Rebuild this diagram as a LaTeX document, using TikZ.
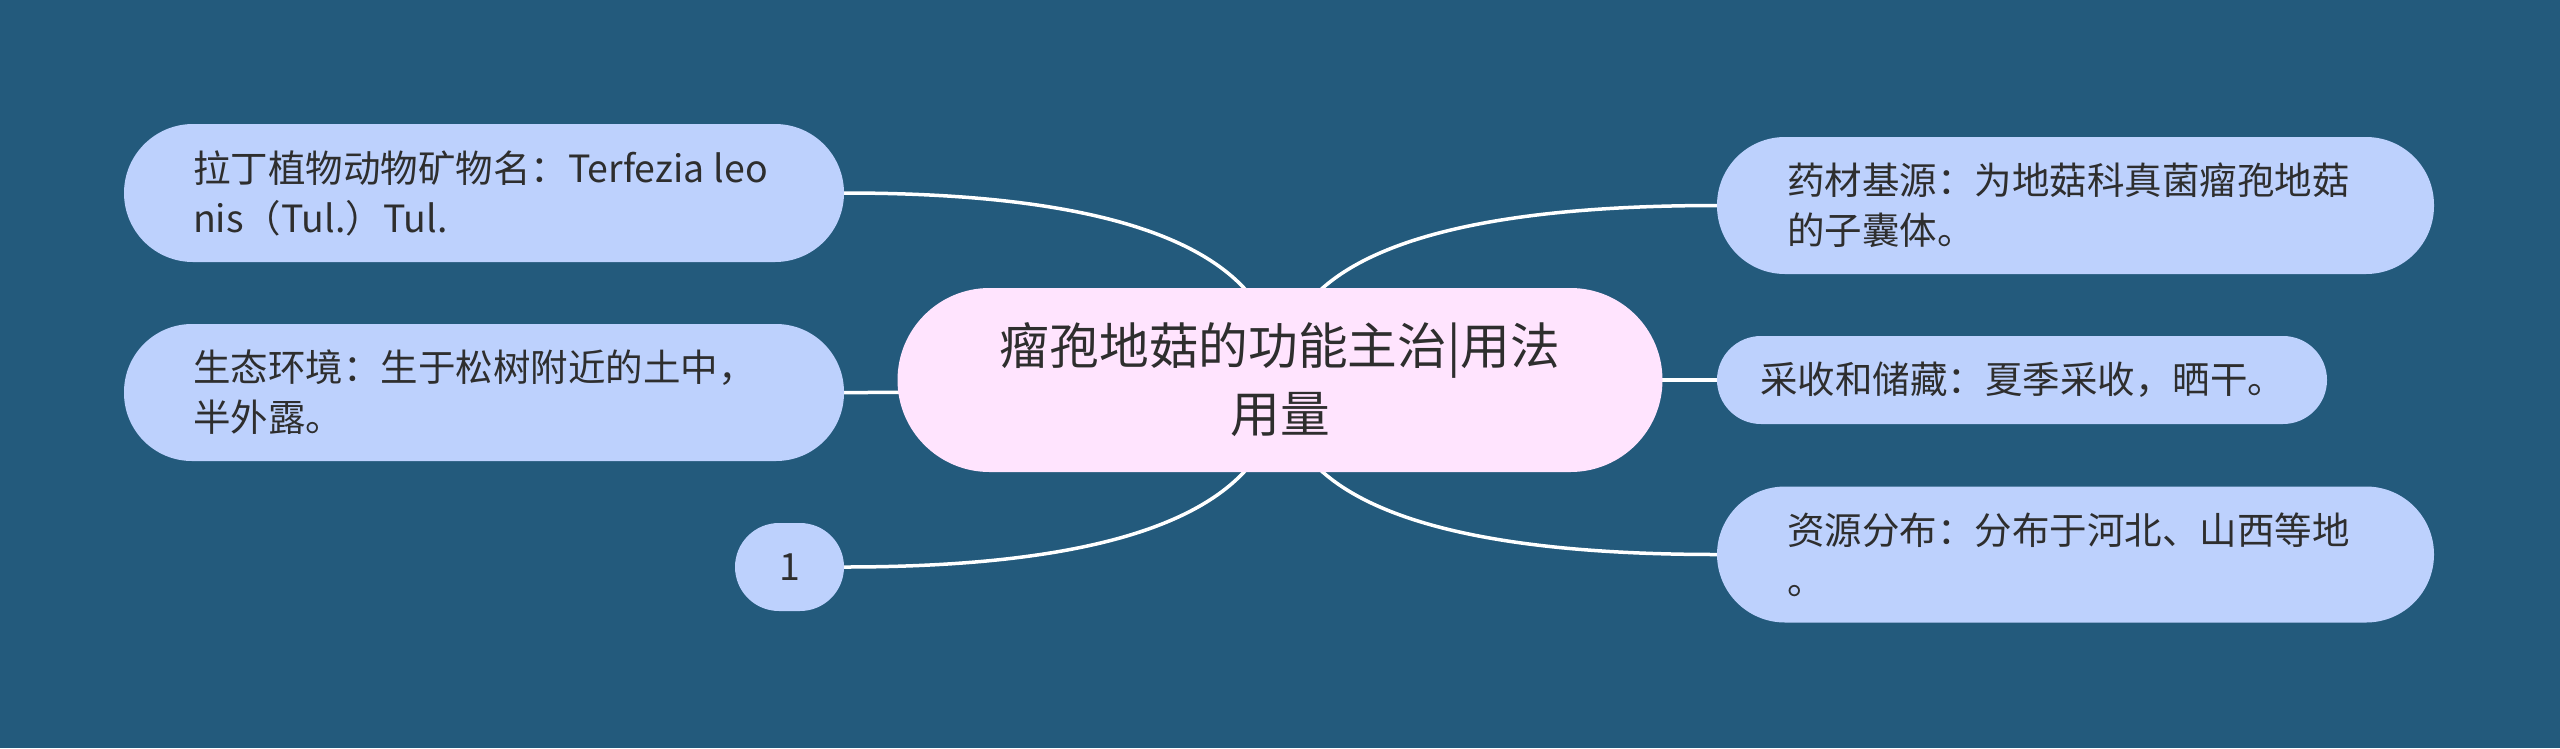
\documentclass[tikz,border=0pt]{standalone}
\usepackage{fontspec}
\setmainfont{Noto Sans CJK SC}
\usetikzlibrary{calc}
\definecolor{bgc}{HTML}{235A7C}
\definecolor{leafc}{HTML}{BDD1FD}
\definecolor{rootc}{HTML}{FFE4FE}
\definecolor{txtc}{HTML}{2E2E2E}
\pgfdeclarelayer{back}
\pgfdeclarelayer{links}
\pgfsetlayers{back,links,main}
\newcommand{\mmlink}[1]{\draw[linkline] (c.center) .. controls ($(c.center)!2/3!(c.center|-#1)$) and ($(#1)!2/3!(c.center|-#1)$) .. (#1);}
\begin{document}
\begin{tikzpicture}[x=1pt,y=-1pt,
  leafbox/.style={fill=leafc, text=txtc, rounded corners=#1, inner ysep=0pt,
    font=\fontsize{37.5}{50}\selectfont, align=left},
  rootbox/.style={fill=rootc, text=txtc, rounded corners=92pt, inner ysep=0pt,
    minimum width=765, minimum height=184, align=center,
    font=\fontsize{49.7}{68}\selectfont},
  linkline/.style={draw=white, line width=3.5pt}]
\useasboundingbox (0,0) rectangle (2560,748);
\begin{pgfonlayer}{back}
\fill[bgc] (0,0) rectangle (2560,748);
\end{pgfonlayer}

\node[rootbox] (c) at (1280,380) {瘤孢地菇的功能主治|用法\\用量};

\node[leafbox=69pt, minimum width=720, minimum height=138, text width=582, inner xsep=69]
  (l1) at (484,193) {拉丁植物动物矿物名：Terfezia\hspace{9pt}leo\\nis（Tul.）Tul.};
\node[leafbox=68pt, minimum width=720, minimum height=137, text width=582, inner xsep=69]
  (l2) at (484,392.5) {生态环境：生于松树附近的土中，\\半外露。};
\node[leafbox=44pt, minimum width=109, minimum height=88, inner xsep=0pt, align=center]
  (l3) at (789.5,567) {1};

\node[leafbox=68pt, minimum width=717, minimum height=137, text width=577, inner xsep=70]
  (r1) at (2075.5,205.5) {药材基源：为地菇科真菌瘤孢地菇\\的子囊体。};
\node[leafbox=44pt, minimum width=610, minimum height=88, text width=524, inner xsep=43]
  (r2) at (2022,380) {采收和储藏：夏季采收，晒干。};
\node[leafbox=68pt, minimum width=717, minimum height=136, text width=577, inner xsep=70]
  (r3) at (2075.5,554.5) {资源分布：分布于河北、山西等地\\。};

\begin{pgfonlayer}{links}
\mmlink{l1.east}
\mmlink{l2.east}
\mmlink{l3.east}
\mmlink{r1.west}
\mmlink{r2.west}
\mmlink{r3.west}
\end{pgfonlayer}
\end{tikzpicture}
\end{document}
